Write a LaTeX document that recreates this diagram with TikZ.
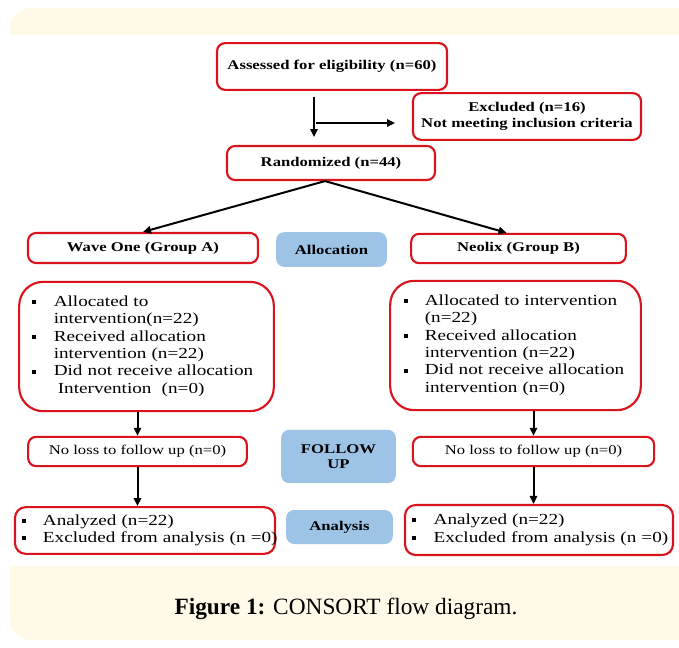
\documentclass[tikz,border=0pt]{standalone}
\usepackage{fontspec}
\setmainfont{Liberation Serif}
\newfontfamily\diagfont{Liberation Serif}[FakeStretch=1.25]
\usetikzlibrary{arrows.meta}
\definecolor{boxred}{RGB}{218,20,28}
\definecolor{stageblue}{RGB}{157,195,230}
\definecolor{panelyellow}{RGB}{255,250,232}
\newcommand{\sqbullet}{\rule[0.35ex]{3pt}{3pt}}
\tikzset{
  redbox/.style={draw=boxred, line width=1.6pt, rounded corners=6pt, fill=white, align=center, inner sep=2pt, font=\diagfont\bfseries\fontsize{10}{11.5}\selectfont},
  plainbox/.style={redbox, font=\diagfont\fontsize{10}{11.5}\selectfont},
  listbox/.style={draw=boxred, line width=1.6pt, rounded corners=18pt, fill=white, align=left, inner ysep=2pt, font=\diagfont\fontsize{11.5}{13}\selectfont},
  stagebox/.style={fill=stageblue, rounded corners=6pt, align=center, inner sep=2pt, font=\diagfont\bfseries\fontsize{10}{11.5}\selectfont},
  arr/.style={-{Triangle[length=6pt,width=5.5pt]}, line width=1.5pt}
}

\begin{document}
\begin{tikzpicture}[x=0.75pt,y=-0.75pt]
  \useasboundingbox (0,0) rectangle (679,647);
  \fill[panelyellow, rounded corners=15pt] (10,8) rectangle (720,640);
  \fill[white] (10,35) rectangle (679,566);

  \node[redbox, minimum width=172.5pt, minimum height=35pt] (assess) at (332,66.5) {Assessed for eligibility (n=60)};
  \node[redbox, minimum width=171pt, minimum height=35pt] (excl) at (527,116.5) {Excluded (n=16)\\Not meeting inclusion criteria};
  \node[redbox, minimum width=156pt, minimum height=25.5pt] (rand) at (331,163) {Randomized (n=44)};

  \node[redbox, minimum width=172.5pt, minimum height=22.5pt] (wave) at (143,248) {Wave One (Group A)};
  \node[stagebox, minimum width=83pt, minimum height=26pt] (alloc) at (331.5,249.5) {Allocation};
  \node[redbox, minimum width=161pt, minimum height=22pt] (neo) at (518.5,248.5) {Neolix (Group B)};

  \node[listbox, text width=171pt, inner xsep=10pt, minimum height=97pt] (listA) at (146.5,346.5) {%
    \begin{tabular}{@{}p{16pt}@{}l@{}}
      \sqbullet & Allocated to\\
                & intervention(n=22)\\
      \sqbullet & Received allocation\\
                & intervention (n=22)\\
      \sqbullet & Did not receive allocation\\
                & \hspace{3pt}Intervention \ (n=0)
    \end{tabular}};
  \node[listbox, text width=168pt, inner xsep=10pt, minimum height=97pt] (listB) at (515.5,345.5) {%
    \begin{tabular}{@{}p{16pt}@{}l@{}}
      \sqbullet & Allocated to intervention\\
                & (n=22)\\
      \sqbullet & Received allocation\\
                & intervention (n=22)\\
      \sqbullet & Did not receive allocation\\
                & intervention (n=0)
    \end{tabular}};

  \node[plainbox, minimum width=164pt, minimum height=22pt] (lossA) at (137.5,451.5) {No loss to follow up (n=0)};
  \node[stagebox, minimum width=86pt, minimum height=40pt] (follow) at (338.5,456.5) {FOLLOW\\UP};
  \node[plainbox, minimum width=181pt, minimum height=22pt] (lossB) at (533.5,451.5) {No loss to follow up (n=0)};

  \node[listbox, rounded corners=8pt, text width=185pt, inner xsep=5pt, minimum height=35pt] (anaA) at (145,530.5) {%
    \begin{tabular}{@{}p{16pt}@{}l@{}}
      \sqbullet & Analyzed (n=22)\\
      \sqbullet & Excluded from analysis (n =0)
    \end{tabular}};
  \node[stagebox, minimum width=80pt, minimum height=25.5pt] (analysis) at (339.5,527) {Analysis};
  \node[listbox, rounded corners=8pt, text width=190pt, inner xsep=5.5pt, minimum height=37.5pt] (anaB) at (539,530) {%
    \begin{tabular}{@{}p{16pt}@{}l@{}}
      \sqbullet & Analyzed (n=22)\\
      \sqbullet & Excluded from analysis (n =0)
    \end{tabular}};

  \node (caption) at (346,609) {\fontsize{17.5}{20}\selectfont\textbf{Figure 1:} CONSORT flow diagram.};

  \coordinate (down1) at (314,97);
  \coordinate (down2) at (314,137);
  \coordinate (side1) at (316,123);
  \coordinate (side2) at (395,123);
  \draw[arr] (down1) -- (down2);
  \draw[arr] (side1) -- (side2);
  \draw[arr] ([xshift=-4.5pt]rand.south) -- (wave.north);
  \draw[arr] ([xshift=-4.5pt]rand.south) -- ([xshift=-9pt]neo.north);
  \draw[arr] (listA.south -| lossA) -- (lossA.north);
  \draw[arr] (listB.south -| lossB) -- (lossB.north);
  \draw[arr] (lossA.south) -- (lossA.south |- anaA.north);
  \draw[arr] (lossB.south) -- (lossB.south |- anaB.north);
\end{tikzpicture}
\end{document}
